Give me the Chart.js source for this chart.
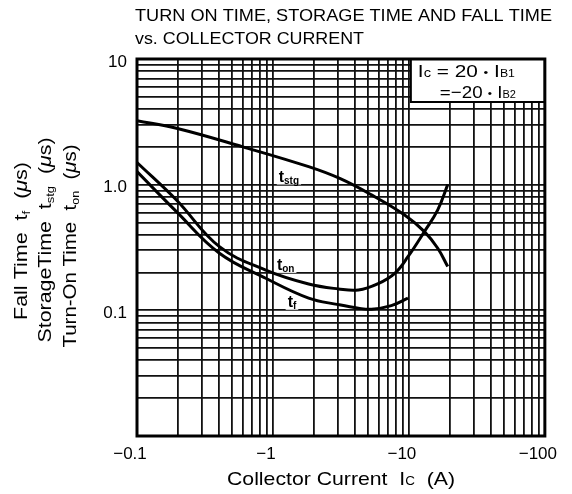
<!DOCTYPE html>
<html>
<head>
<meta charset="utf-8">
<script src="https://cdn.jsdelivr.net/npm/chart.js@4.4.1/dist/chart.umd.min.js"></script>
<style>
  html, body { margin: 0; padding: 0; background: #fff; }
  #wrap { width: 572px; height: 494px; }
</style>
</head>
<body>
<div id="wrap"><canvas id="chart" width="572" height="494"></canvas></div>
<script>
// |Ic| in A (the axis shows them as negative currents), times in microseconds
const tstgCurrent = [0.1, 0.195, 0.6, 1.83, 3.1, 5.3, 9.3, 13.0, 16.3, 19.3];
const tstgTime    = [3.23, 2.81, 2.0, 1.39, 1.12, 0.83, 0.574, 0.423, 0.312, 0.223];

const tonCurrent = [0.1, 0.195, 0.404, 0.885, 1.83, 3.03, 4.25, 5.94, 7.87, 9.84, 13.0, 16.3, 19.3];
const tonTime    = [1.50, 0.755, 0.321, 0.209, 0.162, 0.148, 0.145, 0.163, 0.197, 0.267, 0.423, 0.63, 1.0];

const tfCurrent = [0.1, 0.195, 0.404, 0.885, 1.83, 3.03, 4.25, 5.3, 7.43, 9.84];
const tfTime    = [1.27, 0.61, 0.285, 0.18, 0.125, 0.111, 0.104, 0.102, 0.109, 0.125];

// axis decades and the labels printed on them
const xDecades = [0.1, 1, 10, 100];
const xTickLabels = ['\u22120.1', '\u22121', '\u221210', '\u2212100'];
const yDecades = [0.01, 0.1, 1, 10];
const yTickLabels = ['', '0.1', '1.0', '10'];

// curve name labels (t + subscript) placed in data units
const curveLabelSubs = ['stg', 'on', 'f'];
const curveLabelX = [1.31, 1.24, 1.38];
const curveLabelY = [1.16, 0.23, 0.117];

const FONT = '"Liberation Sans", Arial, Helvetica, sans-serif';

// 1,2,...9 x each decade -> log paper grid
function logGrid(decades) {
    const vals = [];
    for (let i = 0; i < decades.length - 1; i++) {
        for (let k = 1; k <= 9; k++) vals.push(+(decades[i] * k).toPrecision(4));
    }
    vals.push(decades[decades.length - 1]);
    return vals;
}

const decadeLabel = (decades, labels) => (value) => {
    const i = decades.findIndex(d => Math.abs(d - value) / d < 1e-6);
    return i >= 0 ? labels[i] : '';
};

const toPoints = (xs, ys) => xs.map((x, i) => ({ x: x, y: ys[i] }));

// text made of runs: {t, s: size, dy: baseline shift, it: italic, b: bold}
function runFont(p) {
    return (p.it ? 'italic ' : '') + (p.b ? 'bold ' : '') + p.s + 'px ' + FONT;
}
function richWidth(ctx, parts) {
    let w = 0;
    parts.forEach(p => { ctx.font = runFont(p); w += ctx.measureText(p.t).width; });
    return w;
}
function drawRich(ctx, parts, x, y, align, fit) {
    const w = richWidth(ctx, parts);
    const sx = fit ? fit / w : 1;
    ctx.save();
    ctx.translate(x, y);
    ctx.scale(sx, 1);
    let cx = align === 'center' ? -w / 2 : (align === 'right' ? -w : 0);
    ctx.textAlign = 'left';
    ctx.textBaseline = 'alphabetic';
    ctx.fillStyle = '#000';
    parts.forEach(p => {
        ctx.font = runFont(p);
        ctx.fillText(p.t, cx, p.dy || 0);
        cx += ctx.measureText(p.t).width;
    });
    ctx.restore();
    return w * sx;
}

const labelParts = (sub) => [{ t: 't', s: 16, b: true }, { t: sub, s: 10, b: true, dy: 2 }];

const decorations = {
    id: 'decorations',
    beforeDraw(chart) {
        const ctx = chart.ctx;
        ctx.save();
        ctx.fillStyle = '#fff';
        ctx.fillRect(0, 0, chart.width, chart.height);
        ctx.restore();
    },
    beforeDatasetsDraw(chart) {
        // clear the grid behind the curve names, under the curves
        const ctx = chart.ctx;
        const xs = chart.scales.x, ys = chart.scales.y;
        curveLabelSubs.forEach((sub, i) => {
            const px = xs.getPixelForValue(curveLabelX[i]);
            const py = ys.getPixelForValue(curveLabelY[i]);
            const w = richWidth(ctx, labelParts(sub));
            ctx.save();
            ctx.fillStyle = '#fff';
            ctx.fillRect(px - w / 2 - 2, py - 8, w + 4, 16);
            ctx.restore();
        });
    },
    afterDatasetsDraw(chart) {
        const ctx = chart.ctx;
        const a = chart.chartArea;
        const xs = chart.scales.x, ys = chart.scales.y;

        // curve names
        curveLabelSubs.forEach((sub, i) => {
            const px = xs.getPixelForValue(curveLabelX[i]);
            const py = ys.getPixelForValue(curveLabelY[i]);
            drawRich(ctx, labelParts(sub), px, py + 5, 'center');
        });

        // condition box, top right
        const bx = a.right - 134, by = a.top, bw = 134, bh = 43;
        ctx.save();
        ctx.fillStyle = '#fff';
        ctx.fillRect(bx, by, bw, bh);
        ctx.strokeStyle = '#000';
        ctx.lineWidth = 2;
        ctx.strokeRect(bx, by, bw, bh);
        ctx.restore();
        drawRich(ctx, [
            { t: 'I', s: 17 }, { t: 'c', s: 12 }, { t: ' = 20 ', s: 17 },
            { t: '\u2022', s: 11, dy: -1 }, { t: ' I', s: 17 }, { t: 'B1', s: 10 }
        ], bx + 7, by + 18, 'left', 97);
        drawRich(ctx, [
            { t: '=\u221220 ', s: 17 }, { t: '\u2022', s: 11, dy: -1 },
            { t: ' I', s: 17 }, { t: 'B2', s: 10 }
        ], bx + 29, by + 39, 'left', 76);

        // frame
        ctx.save();
        ctx.strokeStyle = '#000';
        ctx.lineWidth = 3;
        ctx.strokeRect(a.left, a.top, a.right - a.left, a.bottom - a.top);
        ctx.restore();
    },
    afterDraw(chart) {
        const ctx = chart.ctx;

        // title
        drawRich(ctx, [{ t: 'TURN ON TIME, STORAGE TIME AND FALL TIME', s: 17 }], 135, 21, 'left', 417);
        drawRich(ctx, [{ t: 'vs. COLLECTOR CURRENT', s: 17 }], 135, 44, 'left', 229);

        // x axis title
        drawRich(ctx, [
            { t: 'Collector Current  I', s: 19 }, { t: 'C', s: 12 }, { t: '  (A)', s: 19 }
        ], 341, 485, 'center', 228);

        // y axis title, three rotated lines
        const mu = { t: '\u03bc', s: 18, it: true };
        const lines = [
            { x: 27, cy: 241, fit: 158, parts: [{ t: 'Fall Time  t', s: 18 }, { t: 'f', s: 11, dy: 3 }, { t: '  (', s: 18 }, mu, { t: 's)', s: 18 }] },
            { x: 51, cy: 240, fit: 205, parts: [{ t: 'StorageTime  t', s: 18 }, { t: 'stg', s: 11, dy: 3 }, { t: '  (', s: 18 }, mu, { t: 's)', s: 18 }] },
            { x: 76, cy: 246, fit: 203, parts: [{ t: 'Turn-On Time  t', s: 18 }, { t: 'on', s: 11, dy: 3 }, { t: '  (', s: 18 }, mu, { t: 's)', s: 18 }] }
        ];
        lines.forEach(l => {
            ctx.save();
            ctx.translate(l.x, l.cy);
            ctx.rotate(-Math.PI / 2);
            drawRich(ctx, l.parts, 0, 0, 'center', l.fit);
            ctx.restore();
        });
    }
};

const curveStyle = {
    borderColor: '#000',
    borderWidth: 3,
    pointRadius: 0,
    fill: false,
    tension: 0.4
};

new Chart(document.getElementById('chart').getContext('2d'), {
    type: 'line',
    data: {
        datasets: [
            Object.assign({ label: 'tstg', data: toPoints(tstgCurrent, tstgTime) }, curveStyle),
            Object.assign({ label: 'ton', data: toPoints(tonCurrent, tonTime) }, curveStyle),
            Object.assign({ label: 'tf', data: toPoints(tfCurrent, tfTime) }, curveStyle)
        ]
    },
    options: {
        responsive: false,
        animation: false,
        devicePixelRatio: 1,
        layout: { padding: { top: 59, right: 25, left: 0, bottom: 0 } },
        plugins: {
            legend: { display: false },
            tooltip: { enabled: false },
            title: { display: false }
        },
        scales: {
            x: {
                type: 'logarithmic',
                min: xDecades[0],
                max: xDecades[xDecades.length - 1],
                afterBuildTicks: (scale) => { scale.ticks = logGrid(xDecades).map(v => ({ value: v })); },
                afterFit: (scale) => { scale.height = 58; },
                grid: { color: '#111', lineWidth: 1.8, drawTicks: false },
                border: { display: false },
                ticks: {
                    autoSkip: false,
                    maxRotation: 0,
                    padding: 8,
                    labelOffset: -7,
                    color: '#000',
                    font: { family: FONT, size: 17 },
                    callback: decadeLabel(xDecades, xTickLabels)
                }
            },
            y: {
                type: 'logarithmic',
                min: yDecades[0],
                max: yDecades[yDecades.length - 1],
                afterBuildTicks: (scale) => { scale.ticks = logGrid(yDecades).map(v => ({ value: v })); },
                afterFit: (scale) => { scale.width = 137; },
                grid: { color: '#111', lineWidth: 1.8, drawTicks: false },
                border: { display: false },
                ticks: {
                    autoSkip: false,
                    padding: 10,
                    labelOffset: 3,
                    color: '#000',
                    font: { family: FONT, size: 17 },
                    callback: decadeLabel(yDecades, yTickLabels)
                }
            }
        }
    },
    plugins: [decorations]
});
</script>
</body>
</html>
